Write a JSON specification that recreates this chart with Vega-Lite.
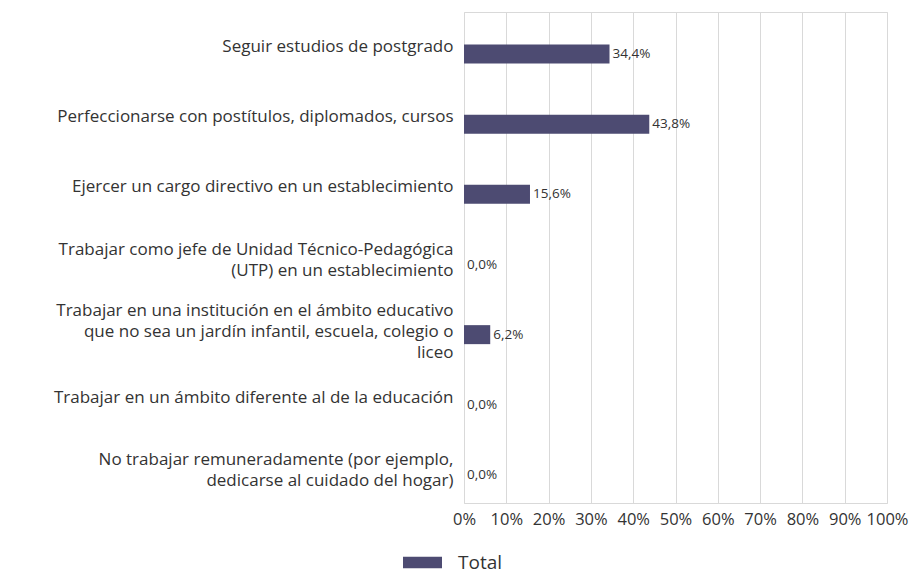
{
  "$schema": "https://vega.github.io/schema/vega-lite/v6.json",
  "autosize": "none",
  "padding": {"left": 464, "top": 12, "right": 24, "bottom": 70},
  "width": 423,
  "height": 491,
  "background": "white",
  "config": {
    "locale": {"number": {"decimal": ",", "thousands": ".", "grouping": [3], "currency": ["", " €"]}},
    "view": {"stroke": "#d9d9d9", "strokeWidth": 1},
    "font": "Open Sans"
  },
  "data": {
    "values": [
      {"categoria": "Seguir estudios de postgrado", "serie": "Total", "valor": 0.344},
      {"categoria": "Perfeccionarse con postítulos, diplomados, cursos", "serie": "Total", "valor": 0.438},
      {"categoria": "Ejercer un cargo directivo en un establecimiento", "serie": "Total", "valor": 0.156},
      {"categoria": "Trabajar como jefe de Unidad Técnico-Pedagógica|(UTP) en un establecimiento", "serie": "Total", "valor": 0.0},
      {"categoria": "Trabajar en una institución en el ámbito educativo|que no sea un jardín infantil, escuela, colegio o|liceo", "serie": "Total", "valor": 0.062},
      {"categoria": "Trabajar en un ámbito diferente al de la educación", "serie": "Total", "valor": 0.0},
      {"categoria": "No trabajar remuneradamente (por ejemplo,|dedicarse al cuidado del hogar)", "serie": "Total", "valor": 0.0}
    ]
  },
  "encoding": {
    "y": {
      "field": "categoria",
      "type": "nominal",
      "sort": null,
      "title": null,
      "scale": {"paddingInner": 0, "paddingOuter": 0},
      "axis": {
        "labelExpr": "split(datum.label, '|')",
        "labelFontSize": 17,
        "labelColor": "#333333",
        "labelLineHeight": 21,
        "labelPadding": 11,
        "labelLimit": 0,
        "labelOffset": {
          "condition": [
            {"test": "length(split(datum.value, '|')) == 3", "value": -17},
            {"test": "length(split(datum.value, '|')) == 2", "value": -8}
          ],
          "value": 0
        },
        "ticks": false,
        "tickSize": 0,
        "domain": false,
        "grid": false
      }
    },
    "x": {
      "field": "valor",
      "type": "quantitative",
      "title": null,
      "scale": {"domain": [0, 1], "nice": false},
      "axis": {
        "format": ".0%",
        "values": [0, 0.1, 0.2, 0.3, 0.4, 0.5, 0.6, 0.7, 0.8, 0.9, 1],
        "labelFontSize": 16.5,
        "labelColor": "#333333",
        "labelPadding": 8,
        "labelOverlap": false,
        "ticks": false,
        "tickSize": 0,
        "domain": false,
        "grid": true,
        "gridColor": "#d9d9d9",
        "gridWidth": 1,
        "labelFlush": false
      }
    }
  },
  "layer": [
    {
      "mark": {"type": "bar", "height": 19, "yOffset": 7},
      "encoding": {
        "color": {
          "field": "serie",
          "type": "nominal",
          "scale": {"range": ["#4d4b72"]},
          "legend": {
            "title": null,
            "orient": "none",
            "legendX": -61,
            "legendY": 531,
            "symbolType": "M-1,-0.3H1V0.3H-1Z",
            "symbolSize": 1521,
            "symbolStrokeWidth": 0,
            "labelFontSize": 19,
            "labelColor": "#333333",
            "labelOffset": 16
          }
        }
      }
    },
    {
      "mark": {"type": "text", "align": "left", "baseline": "middle", "dx": 3, "yOffset": 7, "fontSize": 13.5, "color": "#333333"},
      "encoding": {
        "text": {"field": "valor", "type": "quantitative", "format": ".1%"}
      }
    }
  ]
}
